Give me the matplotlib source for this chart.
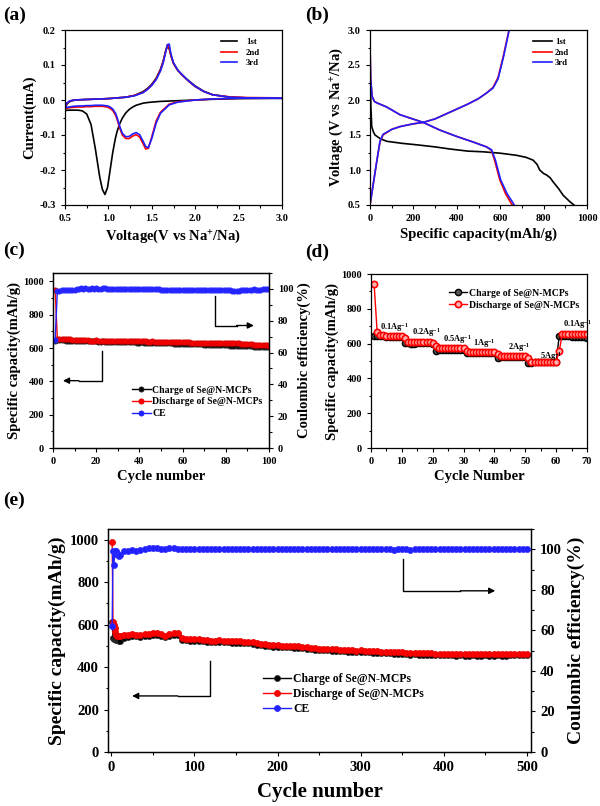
import numpy as np
import matplotlib
matplotlib.use("Agg")
import matplotlib.pyplot as plt
from matplotlib.ticker import MultipleLocator

plt.rcParams['font.family'] = ['Liberation Serif', 'DejaVu Serif']
plt.rcParams['font.weight'] = 'bold'
plt.rcParams['axes.labelweight'] = 'bold'
plt.rcParams['mathtext.fontset'] = 'custom'
plt.rcParams['mathtext.rm'] = 'Liberation Serif:bold'
plt.rcParams['mathtext.default'] = 'rm'

# ---- (a) CV curves ----
v_cath = [0.5, 0.55, 0.6, 0.65, 0.7, 0.75, 0.8, 0.85, 0.9, 0.93, 0.96, 0.99, 1.02, 1.05, 1.08, 1.1,
          1.13, 1.16, 1.2, 1.24, 1.28, 1.32, 1.36, 1.4, 1.43, 1.46, 1.5, 1.55, 1.6, 1.7, 1.8, 2.0,
          2.2, 2.5, 3.0]
i_cath_1 = [-0.030, -0.029, -0.029, -0.029, -0.031, -0.040, -0.070, -0.140, -0.220, -0.255, -0.270,
            -0.250, -0.200, -0.150, -0.110, -0.090, -0.068, -0.052, -0.037, -0.027, -0.020, -0.015,
            -0.012, -0.009, -0.008, -0.007, -0.006, -0.005, -0.004, -0.003, -0.002, 0.000, 0.002,
            0.004, 0.005]
i_cath_2 = [-0.025, -0.022, -0.021, -0.020, -0.020, -0.019, -0.019, -0.018, -0.018, -0.018, -0.019,
            -0.020, -0.024, -0.030, -0.042, -0.055, -0.080, -0.100, -0.110, -0.110, -0.103, -0.099,
            -0.106, -0.125, -0.140, -0.138, -0.105, -0.060, -0.035, -0.012, -0.005, 0.000, 0.003,
            0.005, 0.005]
i_cath_3 = [-0.022, -0.020, -0.018, -0.017, -0.017, -0.016, -0.016, -0.015, -0.015, -0.015, -0.016,
            -0.017, -0.020, -0.026, -0.037, -0.050, -0.075, -0.095, -0.105, -0.104, -0.097, -0.093,
            -0.099, -0.118, -0.133, -0.136, -0.110, -0.066, -0.038, -0.014, -0.006, 0.000, 0.003,
            0.005, 0.005]
v_an = [0.5, 0.52, 0.55, 0.6, 0.7, 0.8, 1.0, 1.2, 1.3, 1.4, 1.45, 1.5, 1.55, 1.6, 1.63, 1.66, 1.68,
        1.7, 1.72, 1.75, 1.8, 1.85, 1.9, 1.95, 2.0, 2.1, 2.2, 2.4, 2.6, 3.0]
i_an_1 = [-0.030, -0.012, -0.005, -0.001, 0.001, 0.002, 0.004, 0.008, 0.013, 0.024, 0.033, 0.045,
          0.062, 0.088, 0.110, 0.140, 0.155, 0.147, 0.127, 0.105, 0.085, 0.072, 0.060, 0.050, 0.040,
          0.025, 0.015, 0.008, 0.006, 0.005]
i_an_2 = [-0.025, -0.010, -0.004, 0.000, 0.001, 0.002, 0.004, 0.008, 0.013, 0.022, 0.031, 0.043,
          0.060, 0.086, 0.108, 0.140, 0.158, 0.150, 0.128, 0.104, 0.084, 0.071, 0.059, 0.048, 0.038,
          0.024, 0.015, 0.009, 0.007, 0.006]
i_an_3 = [-0.022, -0.009, -0.003, 0.000, 0.001, 0.002, 0.004, 0.008, 0.012, 0.021, 0.030, 0.042,
          0.058, 0.083, 0.105, 0.137, 0.158, 0.160, 0.132, 0.106, 0.085, 0.072, 0.060, 0.049, 0.039,
          0.024, 0.015, 0.008, 0.006, 0.005]

# ---- (b) charge / discharge profiles ----
cap_dis_1 = [0, 2, 4, 8, 15, 23, 46, 77, 150, 215, 300, 368, 450, 521, 600, 675, 720, 752, 770, 782,
             800, 813, 830, 844, 870, 890, 920, 940]
vol_dis_1 = [1.85, 2.25, 1.9, 1.62, 1.55, 1.50, 1.45, 1.41, 1.38, 1.36, 1.33, 1.30, 1.27, 1.26, 1.24,
             1.21, 1.18, 1.14, 1.08, 1.00, 0.95, 0.93, 0.89, 0.83, 0.73, 0.64, 0.55, 0.50]
cap_dis_2 = [0, 3, 10, 20, 31, 77, 138, 245, 322, 399, 475, 537, 560, 575, 598, 625, 655]
vol_dis_2 = [2.8, 2.3, 2.05, 1.98, 1.96, 1.90, 1.79, 1.68, 1.57, 1.48, 1.40, 1.33, 1.28, 1.13, 0.86,
             0.66, 0.50]
cap_dis_3 = [0, 3, 10, 20, 31, 77, 138, 245, 322, 399, 475, 537, 560, 578, 602, 632, 665]
vol_dis_3 = [2.8, 2.3, 2.05, 1.98, 1.96, 1.90, 1.79, 1.68, 1.57, 1.48, 1.40, 1.33, 1.29, 1.14, 0.86,
             0.66, 0.50]
cap_chg = [0, 10, 20, 30, 46, 60, 100, 138, 200, 245, 300, 400, 450, 500, 537, 567, 590, 614, 630, 641]
vol_chg_2 = [0.5, 0.7, 0.9, 1.1, 1.40, 1.50, 1.58, 1.62, 1.66, 1.68, 1.73, 1.87, 1.94, 2.02, 2.10, 2.18,
             2.32, 2.62, 2.85, 3.0]
vol_chg_3 = [0.5, 0.7, 0.9, 1.1, 1.41, 1.51, 1.58, 1.62, 1.66, 1.68, 1.73, 1.87, 1.94, 2.02, 2.10, 2.17,
             2.30, 2.60, 2.83, 3.0]

# ---- (c) cycling, 100 cycles ----
c_cycles = np.arange(1, 101)
c_charge = [640, 650, 648, 647, 646, 645, 645, 644, 644, 643,
            643, 642, 642, 641, 641, 641, 640, 640, 640, 640,
            639, 639, 640, 638, 638, 638, 637, 637, 637, 636,
            636, 636, 635, 635, 635, 634, 634, 634, 633, 633,
            634, 632, 632, 632, 631, 631, 631, 630, 630, 630,
            629, 629, 629, 628, 628, 627, 627, 627, 626, 626,
            625, 625, 625, 624, 624, 623, 623, 622, 622, 621,
            621, 620, 620, 619, 619, 618, 618, 617, 617, 616,
            616, 615, 615, 614, 614, 613, 612, 612, 611, 611,
            610, 610, 609, 609, 608, 608, 607, 607, 606, 606]
c_discharge = [950, 656, 655, 654, 654, 653, 652, 652, 651, 651,
               650, 648, 647, 647, 646, 646, 645, 645, 645, 646,
               645, 645, 644, 644, 645, 645, 644, 643, 643, 642,
               642, 642, 641, 641, 641, 640, 640, 641, 640, 640,
               641, 640, 640, 639, 639, 640, 639, 639, 638, 638,
               638, 637, 637, 637, 636, 636, 636, 635, 635, 635,
               634, 634, 634, 633, 633, 633, 632, 632, 632, 632,
               631, 631, 631, 631, 630, 630, 630, 630, 629, 629,
               629, 629, 630, 630, 631, 628, 627, 626, 625, 624,
               623, 622, 621, 620, 620, 619, 618, 617, 616, 615]
c_ce = [68.0, 98.5, 99.0, 99.1, 99.2, 99.3, 99.3, 99.4, 99.4, 99.5,
        99.8, 100.2, 100.3, 100.2, 100.3, 100.1, 100.2, 100.3, 100.2, 100.3,
        100.2, 100.1, 100.3, 100.4, 100.2, 100.1, 100.0, 100.1, 100.0, 100.1,
        100.0, 99.9, 99.9, 100.0, 99.8, 99.9, 99.8, 99.9, 100.0, 100.2,
        100.1, 99.9, 99.8, 99.7, 99.9, 100.1, 99.9, 99.8, 99.7, 99.6,
        99.6, 99.6, 99.5, 99.6, 99.4, 99.5, 99.4, 99.4, 99.5, 99.5,
        99.4, 99.5, 99.4, 99.4, 99.5, 99.5, 99.4, 99.5, 99.5, 99.4,
        99.5, 99.5, 99.6, 99.5, 99.4, 99.4, 99.5, 99.5, 99.4, 99.3,
        99.2, 99.1, 99.0, 98.8, 98.6, 98.9, 99.3, 99.5, 99.6, 99.6,
        99.5, 99.6, 99.7, 99.6, 99.6, 99.5, 99.7, 99.8, 99.7, 99.8]

# ---- (d) rate performance ----
d_cycles = np.arange(1, 71)
d_charge = [645, 645, 642, 641, 640, 640, 639, 638, 637, 636,
            603, 601, 600, 600, 601, 601, 602, 602, 601, 600,
            560, 562, 562, 562, 563, 563, 563, 563, 563, 562,
            545, 546, 547, 547, 547, 547, 547, 547, 547, 546,
            520, 522, 523, 523, 523, 523, 523, 523, 523, 522,
            488, 491, 492, 492, 493, 493, 493, 494, 494, 494,
            645, 643, 642, 641, 640, 639, 638, 637, 636, 635]
d_discharge = [945, 665, 650, 648, 646, 645, 644, 643, 643, 644,
               630, 608, 607, 608, 609, 610, 612, 612, 610, 605,
               585, 575, 573, 573, 573, 573, 573, 573, 573, 572,
               560, 552, 551, 551, 551, 551, 551, 551, 551, 550,
               540, 530, 528, 528, 528, 528, 528, 528, 528, 527,
               515, 497, 496, 496, 496, 496, 497, 497, 497, 497,
               557, 655, 655, 655, 655, 655, 654, 654, 654, 654]
rate_labels = ['0.1Ag$^{-1}$', '0.2Ag$^{-1}$', '0.5Ag$^{-1}$', '1Ag$^{-1}$', '2Ag$^{-1}$',
               '5Ag$^{-1}$', '0.1Ag$^{-1}$']
rate_label_x = [2.9, 13.3, 23.3, 33.0, 44.4, 54.8, 62.2]
rate_label_y = [690, 661, 621, 603, 575, 523, 707]

# ---- (e) long cycling, 500 cycles ----
e_cycles = [1, 2, 3, 4, 5, 6, 7, 8, 9, 10] + list(range(15, 501, 5))
e_discharge = [990, 612, 600, 585, 565, 552, 548, 547, 546, 548,
               550, 552, 555, 553, 552, 554, 556, 558, 560, 555,
               548, 555, 560, 558, 535, 533, 532, 531, 530, 528,
               526, 524, 525, 526, 524, 523, 522, 521, 521, 519,
               518, 516, 513, 510, 507, 505, 503, 502, 501, 500,
               500, 499, 497, 495, 493, 491, 489, 487, 486, 485,
               484, 483, 482, 481, 480, 478, 477, 478, 477, 476,
               475, 474, 473, 472, 471, 470, 470, 469, 468, 465,
               467, 466, 465, 464, 464, 463, 463, 462, 462, 462,
               461, 462, 461, 461, 462, 461, 461, 462, 461, 461,
               462, 461, 461, 462, 462, 462, 463, 463]
e_charge = [612, 535, 533, 532, 530, 528, 527, 526, 524, 522,
            535, 540, 545, 544, 543, 545, 547, 550, 552, 546,
            540, 547, 552, 550, 527, 526, 525, 524, 523, 521,
            519, 517, 518, 519, 517, 516, 515, 514, 514, 512,
            511, 509, 506, 503, 500, 498, 496, 495, 494, 493,
            493, 492, 490, 488, 486, 484, 482, 480, 479, 478,
            477, 476, 475, 474, 473, 471, 470, 471, 470, 469,
            468, 467, 466, 465, 464, 463, 463, 462, 461, 455,
            460, 459, 458, 457, 457, 456, 456, 455, 455, 455,
            454, 455, 454, 454, 455, 454, 454, 455, 454, 454,
            455, 454, 454, 455, 455, 455, 456, 456]
e_ce = [62.0, 99.0, 92.0, 97.5, 99.0, 99.2, 98.0, 97.0, 96.7, 97.0,
        99.0, 99.3, 99.5, 99.2, 99.6, 100.2, 100.5, 100.4, 100.6, 100.3,
        100.1, 100.4, 100.7, 100.2, 100.0, 99.9, 100.0, 99.9, 100.0, 99.9,
        100.0, 99.9, 100.0, 99.9, 100.0, 100.0, 99.9, 100.0, 99.9, 100.0,
        99.9, 100.0, 99.9, 100.0, 99.9, 100.0, 99.9, 100.0, 99.9, 100.0,
        99.9, 100.0, 99.9, 100.0, 99.9, 100.0, 99.9, 100.0, 99.9, 100.0,
        99.9, 100.0, 99.9, 100.0, 99.9, 100.0, 99.9, 100.0, 99.9, 100.0,
        99.9, 100.0, 99.9, 100.0, 99.9, 99.8, 99.9, 100.0, 99.9, 99.7,
        99.9, 100.0, 99.9, 100.0, 99.9, 100.0, 99.9, 100.0, 99.9, 100.0,
        99.9, 100.0, 99.9, 100.0, 99.9, 100.0, 99.9, 100.0, 99.9, 100.0,
        99.9, 100.0, 99.9, 100.0, 99.9, 100.0, 99.9, 99.9]

BLACK, RED, BLUE = '#000000', '#ff0000', '#1f1fff'

W, H = 600, 806
fig = plt.figure(figsize=(6.0, 8.06), dpi=100)


def px_axes(l, t, r, b):
    return fig.add_axes([l / W, 1 - b / H, (r - l) / W, (b - t) / H])


def style(ax, fs, twin_right=False):
    ax.tick_params(which='both', direction='out', labelsize=fs, width=0.8)
    ax.tick_params(which='major', length=3)
    ax.tick_params(which='minor', length=1.8)
    if not twin_right:
        ax.tick_params(which='both', top=False, right=False)
    for s in ax.spines.values():
        s.set_linewidth(0.9)
    for lab in ax.get_xticklabels() + ax.get_yticklabels():
        lab.set_fontweight('bold')


def elbow_arrow(ax, pts, head_to):
    xs = [p[0] for p in pts]
    ys = [p[1] for p in pts]
    ax.plot(xs, ys, color='black', lw=1.0, zorder=6)
    ax.annotate('', xy=head_to, xytext=pts[-1],
                arrowprops=dict(arrowstyle='-|>', color='black', lw=1.0,
                                mutation_scale=9, shrinkA=0, shrinkB=0), zorder=6)


# (a)
ax = px_axes(65, 30, 282, 205)
ax.plot(v_cath, i_cath_1, color=BLACK, lw=1.2)
ax.plot(v_an, i_an_1, color=BLACK, lw=1.2, label='1st')
ax.plot(v_cath, i_cath_2, color=RED, lw=1.2)
ax.plot(v_an, i_an_2, color=RED, lw=1.2, label='2nd')
ax.plot(v_cath, i_cath_3, color=BLUE, lw=1.2)
ax.plot(v_an, i_an_3, color=BLUE, lw=1.2, label='3rd')
ax.set_xlim(0.5, 3.0)
ax.set_ylim(-0.3, 0.2)
ax.xaxis.set_major_locator(MultipleLocator(0.5))
ax.xaxis.set_minor_locator(MultipleLocator(0.25))
ax.yaxis.set_major_locator(MultipleLocator(0.1))
ax.yaxis.set_minor_locator(MultipleLocator(0.05))
ax.set_xticklabels(['%.1f' % v for v in ax.get_xticks()])
ax.set_yticks([0.2, 0.1, 0.0, -0.1, -0.2, -0.3])
ax.set_yticklabels(['0.2', '0.1', '0.0', '-0.1', '-0.2', '-0.3'])
ax.set_xlabel('Voltage(V vs Na$^{+}$/Na)', fontsize=10.5, labelpad=3)
ax.set_ylabel('Current(mA)', fontsize=10.5, labelpad=2)
style(ax, 7.5)
ax.legend(loc='center left', bbox_to_anchor=(0.72, 0.871), frameon=False, fontsize=6.3,
          handlelength=1.8, handletextpad=1.0, labelspacing=0.28, borderpad=0, borderaxespad=0,
          prop={'weight': 'bold', 'size': 6.3})

# (b)
ax = px_axes(370, 30, 587, 205)
ax.plot(cap_dis_1, vol_dis_1, color=BLACK, lw=1.2, label='1st')
ax.plot(cap_dis_2, vol_dis_2, color=RED, lw=1.2, label='2nd')
ax.plot(cap_chg, vol_chg_2, color=RED, lw=1.2)
ax.plot(cap_dis_3, vol_dis_3, color=BLUE, lw=1.2, label='3rd')
ax.plot(cap_chg, vol_chg_3, color=BLUE, lw=1.2)
ax.set_xlim(0, 1000)
ax.set_ylim(0.5, 3.0)
ax.xaxis.set_major_locator(MultipleLocator(200))
ax.xaxis.set_minor_locator(MultipleLocator(100))
ax.yaxis.set_major_locator(MultipleLocator(0.5))
ax.yaxis.set_minor_locator(MultipleLocator(0.25))
ax.set_yticks([0.5, 1.0, 1.5, 2.0, 2.5, 3.0])
ax.set_yticklabels(['0.5', '1.0', '1.5', '2.0', '2.5', '3.0'])
ax.set_xlabel('Specific capacity(mAh/g)', fontsize=10.5, labelpad=3)
ax.set_ylabel('Voltage (V vs Na$^{+}$/Na)', fontsize=10.5, labelpad=2)
style(ax, 7.5)
ax.legend(loc='center left', bbox_to_anchor=(0.751, 0.871), frameon=False,
          handlelength=2.2, handletextpad=0.3, labelspacing=0.28, borderpad=0, borderaxespad=0,
          prop={'weight': 'bold', 'size': 6.3})

# (c)
ax = px_axes(53, 273, 269, 448)
ax2 = ax.twinx()
ax.plot(c_cycles, c_charge, color=BLACK, lw=1.0, marker='o', ms=3.8, mfc=BLACK, mec='#333333',
        mew=0.5, label='Charge of Se@N-MCPs')
ax.plot(c_cycles, c_discharge, color=RED, lw=1.0, marker='o', ms=3.8, mfc=RED, mec='#d00000',
        mew=0.5, label='Discharge of Se@N-MCPs')
ax2.plot(c_cycles, c_ce, color=BLUE, lw=1.0, marker='o', ms=3.8, mfc=BLUE, mec='#3030ff',
         mew=0.5, label='CE')
ax.set_xlim(0, 100)
ax.set_ylim(0, 1050)
ax2.set_ylim(0, 110)
ax.xaxis.set_major_locator(MultipleLocator(20))
ax.xaxis.set_minor_locator(MultipleLocator(10))
ax.yaxis.set_major_locator(MultipleLocator(200))
ax.yaxis.set_minor_locator(MultipleLocator(100))
ax2.yaxis.set_major_locator(MultipleLocator(20))
ax2.yaxis.set_minor_locator(MultipleLocator(10))
ax.set_xlabel('Cycle number', fontsize=10.5, labelpad=3)
ax.set_ylabel('Specific capacity(mAh/g)', fontsize=10.5, labelpad=2)
ax2.set_ylabel('Coulombic efficiency(%)', fontsize=10.5, labelpad=3)
style(ax, 7.5)
style(ax2, 7.5, twin_right=True)
ax2.tick_params(which='both', left=False, top=False, bottom=False)
elbow_arrow(ax, [(22.7, 584), (22.7, 404), (12, 404)], (4.6, 404))
elbow_arrow(ax, [(75, 910), (75, 735), (85, 735)], (93, 735))
h1, l1 = ax.get_legend_handles_labels()
h2, l2 = ax2.get_legend_handles_labels()
ax2.legend(h1 + h2, l1 + l2, loc='center left', bbox_to_anchor=(0.366, 0.263), frameon=False,
           handlelength=1.9, handletextpad=0.2, labelspacing=0.3, borderpad=0, borderaxespad=0,
           numpoints=1, prop={'weight': 'bold', 'size': 7})

# (d)
ax = px_axes(371, 274, 587, 448)
ax.plot(d_cycles, d_charge, color=BLACK, lw=1.0, marker='o', ms=4.5, mfc='#555555', mec=BLACK,
        mew=1.0, label='Charge of Se@N-MCPs')
ax.plot(d_cycles, d_discharge, color=RED, lw=1.0, marker='o', ms=4.5, mfc='#ffb0b0', mec=RED,
        mew=1.2, label='Discharge of Se@N-MCPs')
for lab, x, y in zip(rate_labels, rate_label_x, rate_label_y):
    ax.text(x, y, lab, fontsize=6, fontweight='bold', ha='left', va='center')
ax.set_xlim(0, 70)
ax.set_ylim(0, 1000)
ax.xaxis.set_major_locator(MultipleLocator(10))
ax.xaxis.set_minor_locator(MultipleLocator(5))
ax.yaxis.set_major_locator(MultipleLocator(200))
ax.yaxis.set_minor_locator(MultipleLocator(100))
ax.set_xlabel('Cycle Number', fontsize=10.5, labelpad=3)
ax.set_ylabel('Specific capacity(mAh/g)', fontsize=10.5, labelpad=2)
style(ax, 7.5)
ax.legend(loc='center left', bbox_to_anchor=(0.361, 0.856), frameon=False,
          handlelength=1.9, handletextpad=0.2, labelspacing=0.3, borderpad=0, borderaxespad=0,
          numpoints=1, prop={'weight': 'bold', 'size': 7})

# (e)
ax = px_axes(108, 529, 531, 752)
ax2 = ax.twinx()
ax.plot(e_cycles, e_charge, color=BLACK, lw=1.0, marker='o', ms=4.4, mfc=BLACK, mec='#333333',
        mew=0.5, label='Charge of Se@N-MCPs')
ax.plot(e_cycles, e_discharge, color=RED, lw=1.0, marker='o', ms=4.4, mfc=RED, mec='#e00000',
        mew=0.5, label='Discharge of Se@N-MCPs')
ax2.plot(e_cycles, e_ce, color=BLUE, lw=1.0, marker='o', ms=4.4, mfc=BLUE, mec='#3030ff',
         mew=0.5, label='CE')
ax.set_xlim(-4, 505)
ax.set_ylim(0, 1050)
ax2.set_ylim(0, 110)
ax.xaxis.set_major_locator(MultipleLocator(100))
ax.xaxis.set_minor_locator(MultipleLocator(50))
ax.yaxis.set_major_locator(MultipleLocator(200))
ax.yaxis.set_minor_locator(MultipleLocator(100))
ax2.yaxis.set_major_locator(MultipleLocator(20))
ax2.yaxis.set_minor_locator(MultipleLocator(10))
ax.set_xlabel('Cycle number', fontsize=15, labelpad=6)
ax.set_ylabel('Specific capacity(mAh/g)', fontsize=14, labelpad=3)
ax2.set_ylabel('Coulombic efficiency(%)', fontsize=14, labelpad=4)
style(ax, 10.5)
style(ax2, 10.5, twin_right=True)
ax2.tick_params(which='both', left=False, top=False, bottom=False)
elbow_arrow(ax, [(119, 429), (119, 264), (80, 264)], (25, 264))
elbow_arrow(ax, [(351, 910), (351, 759), (420, 759)], (462, 759))
h1, l1 = ax.get_legend_handles_labels()
h2, l2 = ax2.get_legend_handles_labels()
ax2.legend(h1 + h2, l1 + l2, loc='center left', bbox_to_anchor=(0.366, 0.26), frameon=False,
           handlelength=2.4, handletextpad=0.2, labelspacing=0.28, borderpad=0, borderaxespad=0,
           numpoints=1, prop={'weight': 'bold', 'size': 8.4})

# panel letters
for letter, x, y in [('(a)', 3, 15), ('(b)', 305, 15), ('(c)', 3, 250), ('(d)', 305, 252),
                     ('(e)', 3, 500)]:
    fig.text(x / W, 1 - y / H, letter, fontsize=14, fontweight='bold', ha='left', va='center')

fig.savefig('out.png', dpi=100)
